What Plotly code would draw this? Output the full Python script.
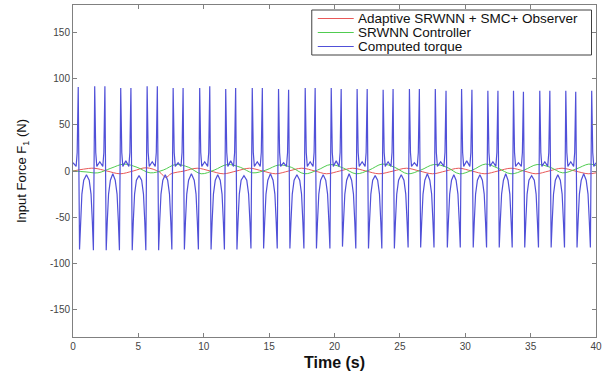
import plotly.graph_objects as go

# ---------------- data ----------------
# Computed torque: positive spikes (time, value)
blue_peak_t = [0.40, 1.66, 2.44, 3.65, 4.43, 5.67, 6.45, 7.66, 8.42, 9.69,
               10.46, 11.68, 12.44, 13.71, 14.48, 15.72, 16.49, 17.76, 18.52, 19.75,
               20.51, 21.73, 22.50, 23.72, 24.48, 25.73, 26.49, 27.71, 28.53, 29.72,
               30.51, 31.73, 32.50, 33.69, 34.45, 35.70, 36.47, 37.69, 38.45, 39.67]
blue_peak_v = [91, 92, 92, 90, 90, 92, 92, 90, 90, 90,
               92, 89, 90, 90, 90, 89, 88, 90, 90, 90,
               89, 89, 89, 88, 89, 89, 89, 89, 87, 89,
               88, 87, 87, 87, 86, 87, 87, 87, 86, 87]
# Computed torque: negative spikes (time, value)
blue_trough_t = [0.50, 1.56, 2.54, 3.55, 4.53, 5.57, 6.55, 7.56, 8.52, 9.59,
                 10.56, 11.58, 12.54, 13.61, 14.58, 15.62, 16.59, 17.66, 18.62, 19.65,
                 20.61, 21.63, 22.60, 23.62, 24.58, 25.63, 26.59, 27.61, 28.63, 29.62,
                 30.61, 31.63, 32.60, 33.59, 34.55, 35.60, 36.57, 37.59, 38.55, 39.57]
blue_trough_v = [-85, -86, -86, -86, -86, -86, -86, -85, -85, -85,
                 -85, -85, -85, -84, -84, -84, -84, -84, -84, -84,
                 -82, -84, -84, -84, -84, -83, -83, -83, -83, -83,
                 -83, -83, -83, -83, -83, -83, -83, -83, -83, -83]
# level between the two spikes of a pair (start, 19 pairs, end)
blue_pair_mid_v = [9, 10, 11, 10, 9, 10, 11, 10, 9, 10, 11,
                   10, 10, 9, 10, 11, 10, 9, 10, 10, 9]
# level at the top of the negative arch between pairs
blue_gap_mid_v = [-4, -3, -5, -4, -3, -4, -5, -3, -4, -4,
                  -3, -5, -4, -3, -4, -4, -3, -5, -4, -3]
# shape read from one cycle: (offset s, value)
pair_shoulder = [(0.08, 20), (0.16, 5)]
arch_shoulder = [(0.08, -55), (0.18, -25), (0.32, -10)]

# SRWNN controller (green)
green_t = [0, 1.0, 1.9, 2.9, 3.9, 4.9, 5.9, 6.9, 7.85, 8.85, 9.8, 10.8, 11.8, 12.8,
           13.75, 14.75, 15.75, 16.7, 17.7, 18.7, 19.7, 20.7, 21.65, 22.65, 23.65,
           24.6, 25.6, 26.6, 27.6, 28.6, 29.55, 30.55, 31.55, 32.5, 33.5, 34.5,
           35.5, 36.5, 37.45, 38.45, 39.45, 40]
green_v = [0, -1, -2, 3, 7.5, 4, -2, 1, 7, 4, -3, 1, 7, 4,
           -2, 1, 6.5, 4, -3, 1, 7, 3, -3, 1, 7.5,
           4, -3, 1, 7, 4, -3, 1, 7.5, 3, -3, 1,
           7, 4, -2, 2, 7.5, 6]

# Adaptive SRWNN + SMC + Observer (red)
red_t = [0, 0.8, 1.6, 2.6, 3.6, 4.6, 5.6, 6.6, 7.1, 7.5, 8.5, 9.5, 10.5, 11.5,
         12.5, 13.5, 14.5, 15.5, 16.5, 17.5, 18.5, 19.4, 20.4, 21.4, 22.4, 23.4,
         24.5, 25.5, 26.5, 27.5, 28.5, 29.5, 30.5, 31.5, 32.5, 33.5, 34.5, 35.4,
         36.4, 37.4, 38.4, 39.4, 40]
red_v = [0, 2, 3, 0, -3, 0, 3.5, -1, -7, -3, 0, 3, 0, -3,
         0, 3, 0, -3, 0, 3, 0, -3, 0, 3, 0, -3,
         0, 3, 0, -3, 0, 3, 0, -3, 0, 3, 0, -3,
         0, 3, 0, -3, -2]

x_ticks = [0, 5, 10, 15, 20, 25, 30, 35, 40]
y_ticks = [-150, -100, -50, 0, 50, 100, 150]

series_names = ["Adaptive SRWNN + SMC+ Observer", "SRWNN Controller", "Computed torque"]
series_colors = ["#e85858", "#50cc50", "#5050d8"]

# ---------------- assemble blue polyline from read features ----------------
events = sorted([(t, v, 'p') for t, v in zip(blue_peak_t, blue_peak_v)] +
                [(t, v, 't') for t, v in zip(blue_trough_t, blue_trough_v)])
bx, by = [], []
bx.append(0.0); by.append(blue_pair_mid_v[0])
first = events[0][0]
for off, val in reversed(pair_shoulder):
    bx.append(first - off); by.append(val)
pi, gi = 1, 0
for i, (t, v, k) in enumerate(events):
    bx.append(t); by.append(v)
    if i + 1 < len(events):
        t2, v2, k2 = events[i + 1]
        if k == 'p' and k2 == 'p':
            for off, val in pair_shoulder:
                bx.append(t + off); by.append(val)
            bx.append((t + t2) / 2); by.append(blue_pair_mid_v[pi]); pi += 1
            for off, val in reversed(pair_shoulder):
                bx.append(t2 - off); by.append(val)
        elif k == 't' and k2 == 't':
            for off, val in arch_shoulder:
                bx.append(t + off); by.append(val)
            bx.append((t + t2) / 2); by.append(blue_gap_mid_v[gi]); gi += 1
            for off, val in reversed(arch_shoulder):
                bx.append(t2 - off); by.append(val)
last = events[-1][0]
for off, val in pair_shoulder:
    bx.append(last + off); by.append(val)
bx.append(40.0); by.append(blue_pair_mid_v[-1])

FONT = "Liberation Sans, Arial, Helvetica, sans-serif"

fig = go.Figure()
fig.add_trace(go.Scatter(x=red_t, y=red_v, mode="lines", line_shape="spline",
                         name=series_names[0],
                         line=dict(color=series_colors[0], width=1)))
fig.add_trace(go.Scatter(x=green_t, y=green_v, mode="lines", line_shape="spline",
                         name=series_names[1],
                         line=dict(color=series_colors[1], width=1)))
fig.add_trace(go.Scatter(x=bx, y=by, mode="lines", name=series_names[2],
                         line=dict(color=series_colors[2], width=1.2)))

axis_common = dict(showline=True, linecolor="#808080", linewidth=1, mirror="ticks",
                   ticks="inside", ticklen=4, tickcolor="#808080", showgrid=False,
                   zeroline=False, tickfont=dict(family=FONT, size=10, color="#444"))
fig.update_xaxes(range=[0, 40], tickvals=x_ticks, ticktext=[str(v) for v in x_ticks],
                 title=dict(text="<b>Time (s)</b>", font=dict(family=FONT, size=16, color="#111"),
                            standoff=5),
                 **axis_common)
fig.update_yaxes(range=[-180, 180], tickvals=y_ticks, ticktext=[str(v) for v in y_ticks],
                 title=dict(text="Input Force F<sub>1</sub> (N)",
                            font=dict(family=FONT, size=13, color="#111"), standoff=20),
                 **axis_common)

# legend box drawn in the MATLAB style (paper coordinates)
L, R, T, B = 73.0, 596.5, 5.0, 337.0
def px(x): return (x - L) / (R - L)
def py(y): return (B - y) / (B - T)

shapes = [dict(type="rect", xref="paper", yref="paper", x0=px(312), x1=px(592),
               y0=py(55), y1=py(10), line=dict(color="#404040", width=1),
               fillcolor="white", layer="above")]
annotations = []
row_y = [18.5, 32.5, 46.5]
for name, col, yy in zip(series_names, series_colors, row_y):
    shapes.append(dict(type="line", xref="paper", yref="paper", x0=px(318), x1=px(354),
                       y0=py(yy), y1=py(yy), line=dict(color=col, width=1), layer="above"))
    annotations.append(dict(xref="paper", yref="paper", x=px(357), y=py(yy), text=name,
                            showarrow=False, xanchor="left", yanchor="middle",
                            borderpad=0,
                            font=dict(family=FONT, size=13.5, color="#111")))

fig.update_layout(
    width=613, height=371,
    margin=dict(l=73, r=16.5, t=5, b=34, autoexpand=False),
    plot_bgcolor="white", paper_bgcolor="white",
    showlegend=False,
    shapes=shapes, annotations=annotations,
)
fig.write_html("out.html", config={"displayModeBar": False},
               post_script="document.body.style.margin='0px';")
